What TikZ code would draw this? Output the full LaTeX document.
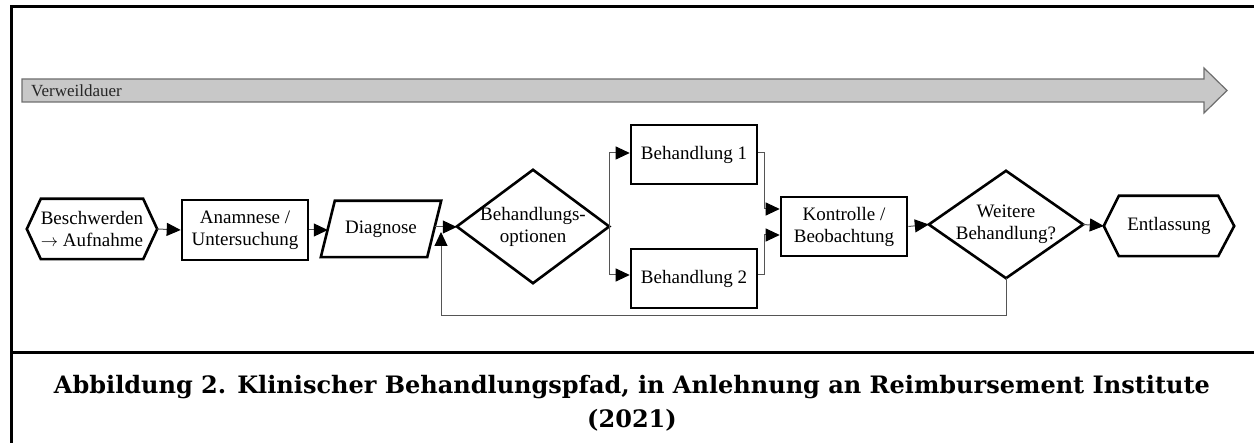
\documentclass[tikz,border=0pt]{standalone}
\usepackage{fontspec}
\setmainfont{Liberation Serif}
\newfontfamily\capfont{DejaVu Serif}
\usetikzlibrary{arrows.meta,calc}
\definecolor{bargray}{HTML}{C8C8C8}
\definecolor{baredge}{HTML}{6E6E6E}
\definecolor{conn}{HTML}{555555}
\begin{document}
\begin{tikzpicture}[x=1pt,y=-1pt,
  box/.style={rectangle,inner sep=0pt,align=center,font=\rmfamily\fontsize{19}{22}\selectfont},
  outline/.style={draw=black,line width=2.6pt,line join=miter},
  conn/.style={draw=conn,line width=1pt,-{Triangle[length=14pt,width=13pt,fill=black,color=black]}},
  frame/.style={line width=3pt,draw=black}]
\useasboundingbox (0,0) rectangle (1254,443);
% frame
\draw[frame] (1255,7) -- (11,7) -- (11,444);
\draw[frame] (11,353) -- (1255,353);
% time bar
\filldraw[fill=bargray,draw=baredge,line width=1.2pt] (22,79) -- (1204,79) -- (1204,68) -- (1227,90.5) -- (1204,113) -- (1204,102) -- (22,102) -- cycle;
\node[anchor=west,inner sep=0pt,font=\rmfamily\fontsize{17}{19}\selectfont,text=black!85] (vw) at (31,91) {Verweildauer};
% nodes
\node[box,minimum width=130pt,minimum height=60pt] (hex1) at (92,229) {Beschwerden\\$\rightarrow$ Aufnahme};
\draw[outline] (hex1.west) -- ([xshift=14pt]hex1.north west) -- ([xshift=-14pt]hex1.north east) -- (hex1.east) -- ([xshift=-14pt]hex1.south east) -- ([xshift=14pt]hex1.south west) -- cycle;
\node[box,outline,minimum width=126pt,minimum height=60pt] (anam) at (245,230) {Anamnese /\\Untersuchung};
\node[box,minimum width=120pt,minimum height=56pt] (diag) at (381,229) {Diagnose};
\draw[outline] ([xshift=14pt]diag.north west) -- (diag.north east) -- ([xshift=-14pt]diag.south east) -- (diag.south west) -- cycle;
\node[box,minimum width=152pt,minimum height=113pt] (opt) at (533,226.5) {Behandlungs-\\optionen};
\draw[outline] (opt.west) -- (opt.north) -- (opt.east) -- (opt.south) -- cycle;
\node[box,outline,minimum width=126pt,minimum height=59pt] (b1) at (694,154.5) {Behandlung 1};
\node[box,outline,minimum width=126pt,minimum height=59pt] (b2) at (694,278.5) {Behandlung 2};
\node[box,outline,minimum width=126pt,minimum height=59pt] (kon) at (844,226.5) {Kontrolle /\\Beobachtung};
\node[box,minimum width=154pt,minimum height=107pt] (wei) at (1006,224.5) {Weitere\\Behandlung?};
\draw[outline] (wei.west) -- (wei.north) -- (wei.east) -- (wei.south) -- cycle;
\node[box,minimum width=130pt,minimum height=60pt] (ent) at (1169,226) {Entlassung};
\draw[outline] (ent.west) -- ([xshift=15pt]ent.north west) -- ([xshift=-16pt]ent.north east) -- (ent.east) -- ([xshift=-16pt]ent.south east) -- ([xshift=15pt]ent.south west) -- cycle;
% connectors
\draw[conn] (hex1.east) -- (anam.west);
\draw[conn] (anam.east) -- ([xshift=7pt]diag.west |- anam.east);
\draw[conn] ([xshift=-6.5pt,yshift=2pt]diag.east) -- ([yshift=-0.5pt]opt.west);
\draw[conn] (opt.east) |- ([yshift=1.5pt]b1.west);
\draw[conn] (opt.east) |- ([yshift=3.5pt]b2.west);
\draw[conn] ([yshift=1.5pt]b1.east) -- ++(6,0) |- ([yshift=17.5pt]kon.west);
\draw[conn] ([yshift=3.5pt]b2.east) -- ++(6,0) |- ([yshift=-8.5pt]kon.west);
\draw[conn] (kon.east) -- (wei.west);
\draw[conn] (wei.east) -- (ent.west);
\coordinate (fb) at (441,316);
\coordinate (fbend) at (441,232);
\draw[conn] (wei.south) |- (fb) -- (fbend);
% caption
\node[inner sep=0pt,align=center,font=\capfont\bfseries\fontsize{24}{34}\selectfont] (cap) at (632,403) {Abbildung 2. Klinischer Behandlungspfad, in Anlehnung an Reimbursement Institute\\(2021)};
\end{tikzpicture}
\end{document}
